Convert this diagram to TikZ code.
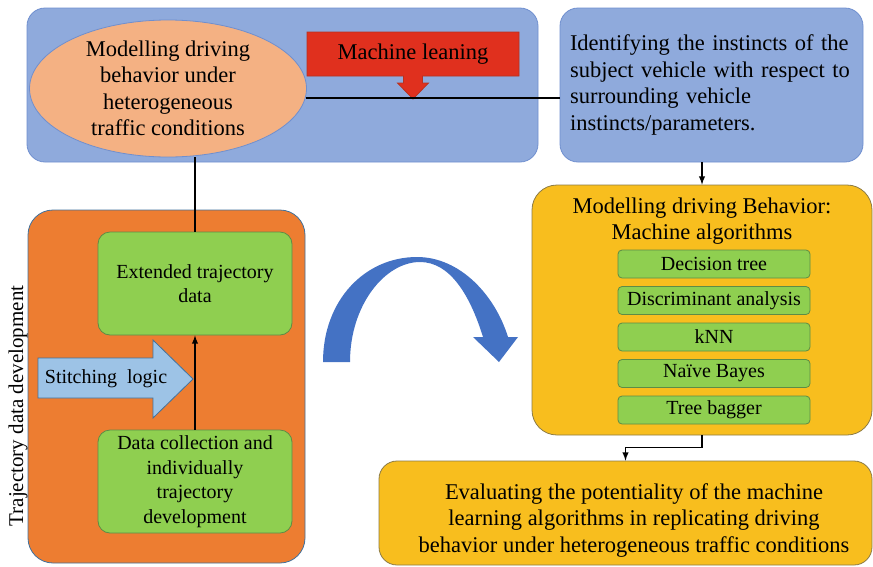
\documentclass[tikz,border=0pt]{standalone}
\usepackage{fontspec}
\setmainfont{Liberation Serif}
\usepackage{tikz}
\usetikzlibrary{positioning, arrows.meta, shapes.geometric}
\definecolor{panelblue}{HTML}{8FAADC}
\definecolor{paneledge}{HTML}{6F8FCF}
\definecolor{peach}{HTML}{F4B183}
\definecolor{mlred}{HTML}{E0301E}
\definecolor{mledge}{HTML}{B8321F}
\definecolor{trajorange}{HTML}{ED7D31}
\definecolor{steeledge}{HTML}{41719C}
\definecolor{algogreen}{HTML}{8FCF50}
\definecolor{greenedge}{HTML}{5E8C45}
\definecolor{algoyellow}{HTML}{F8BE1E}
\definecolor{yellowedge}{HTML}{8C7B45}
\definecolor{stitchblue}{HTML}{9DC3E6}
\definecolor{arcblue}{HTML}{4472C4}

\begin{document}
\begin{tikzpicture}[x=1pt, y=-1pt,
    every node/.style={font=\fontsize{22.5}{26.5}\selectfont, inner sep=0pt},
    panel/.style={draw=paneledge, fill=panelblue, line width=0.8pt, rounded corners=18pt},
    greenbox/.style={draw=greenedge, fill=algogreen, line width=0.8pt, rounded corners=12pt, minimum width=194pt, minimum height=103pt, align=center, font=\fontsize{20}{24.5}\selectfont},
    algo/.style={draw=greenedge, fill=algogreen, line width=0.8pt, rounded corners=4pt, minimum width=192pt, minimum height=28pt, font=\fontsize{20}{24}\selectfont},
    yellowbox/.style={draw=yellowedge, fill=algoyellow, line width=0.8pt, rounded corners=25pt},
    link/.style={line width=1.8pt}]
            \useasboundingbox (0, 0) rectangle (873, 566);
            \node [panel, minimum width=511pt, minimum height=154pt] (mlpanel) at (282.5, 85) {};
            \node [ellipse, draw=paneledge, line width=0.8pt, fill=peach, minimum width=277pt, minimum height=137pt, align=center] (model) at (168, 88.5) {Modelling driving\\behavior under\\heterogeneous\\traffic conditions};
            \coordinate (mlc) at (413, 54);
            \draw [draw=mledge, fill=mlred, line width=0.8pt] ([shift={(-106,-22)}]mlc) -- ++(212, 0) -- ++(0, 44) -- ++(-96.5, 0) -- ++(0, 7) -- ++(6, 0) -- ++(-15.5, 16) -- ++(-15.5, -16) -- ++(6, 0) -- ++(0, -7) -- ++(-96.5, 0) -- cycle;
            \node (ml) at (mlc) {Machine leaning};
            \node [panel, text width=283pt, minimum height=154pt, inner sep=10pt, align=left] (instinct) at (711.5, 85) {Identifying the instincts of the\\subject vehicle with respect to\\surrounding vehicle\\instincts/parameters.};
            \draw [link] (model.-4) -- (model.-4 -| instinct.west);

            \node [yellowbox, minimum width=340pt, minimum height=250pt] (algos) at (702, 310) {};
            \node [align=center] (algotitle) at (702, 221) {Modelling driving Behavior:\\Machine algorithms};
            \foreach \name/\txt [count=\i] in {dtree/Decision tree, discr/Discriminant analysis, knn/kNN, bayes/Naïve Bayes, bagger/Tree bagger}
                \node [algo] (\name) at (714, 227.5 + 36.5*\i) {\txt};
            \draw [link, -latex] (algos.north |- instinct.south) -- (algos.north);

            \node [yellowbox, rounded corners=18pt, minimum width=493pt, minimum height=104pt] (eval) at (625.5, 513) {};
            \node [align=center] (evaltext) at (634, 520) {Evaluating the potentiality of the machine\\learning algorithms in replicating driving\\behavior under heterogeneous traffic conditions};
            \draw [link, -latex] (algos.south) -- ++(0, 12) -| (eval.north);

            \node [draw=steeledge, fill=trajorange, line width=0.8pt, rounded corners=25pt, minimum width=277pt, minimum height=353pt] (trajdev) at (166.5, 386.5) {};
            \node [rotate=90, font=\fontsize{21}{25}\selectfont] (trajlabel) at (18, 406) {Trajectory data development};
            \node [greenbox] (extended) at (195, 283.5) {Extended trajectory\\data};
            \node [greenbox] (collect) at (195, 481.5) {Data collection and\\individually\\trajectory\\development};
            \draw [link] (extended.north |- model.south) -- (extended.north);
            \draw [link, -latex] (collect.north) -- (extended.south);
            \draw [draw=steeledge, fill=stitchblue, line width=0.8pt] (38, 358) -- (153, 358) -- (153, 340) -- (193, 379) -- (153, 418) -- (153, 398) -- (38, 398) -- cycle;
            \node [font=\fontsize{20}{24}\selectfont] (stitch) at (106, 379) {Stitching\ \ logic};

            \fill [arcblue] (323, 362) .. controls (323, 300) and (365, 257) .. (417, 257) .. controls (460, 257) and (495, 295) .. (508, 337) -- (518, 337) -- (499, 362) -- (473, 337) -- (483, 337) .. controls (470, 295) and (450, 262) .. (420, 262) .. controls (385, 262) and (350, 305) .. (350, 362) -- cycle;
        \end{tikzpicture}
\end{document}
